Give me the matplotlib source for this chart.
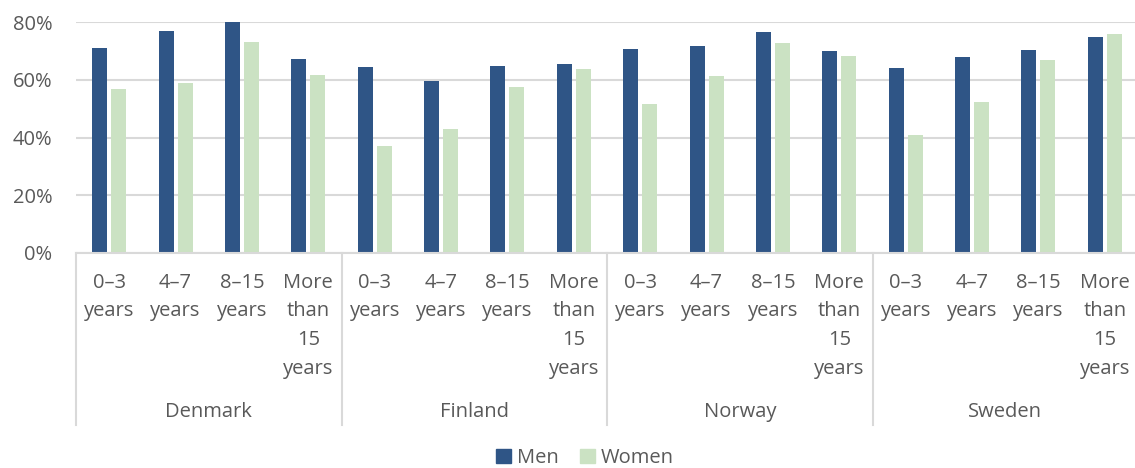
import matplotlib
matplotlib.use("Agg")
import matplotlib.pyplot as plt
import matplotlib.transforms as mtransforms
import numpy as np
from matplotlib.patches import Patch

COUNTRIES = ["Denmark", "Finland", "Norway", "Sweden"]
DURATIONS = ["0–3\nyears", "4–7\nyears", "8–15\nyears", "More\nthan\n15\nyears"]

# share in employment (%), by country then duration of residence
MEN = [71.0, 77.0, 80.1, 67.1,
       64.5, 59.6, 64.7, 65.5,
       70.5, 71.8, 76.5, 69.9,
       64.2, 67.8, 70.3, 74.9]
WOMEN = [56.9, 59.0, 73.1, 61.8,
         37.2, 43.0, 57.4, 63.8,
         51.6, 61.4, 72.6, 68.1,
         40.9, 52.3, 66.9, 75.7]

C_MEN = "#2F5586"
C_WOMEN = "#CBE2C3"
C_TEXT = "#595959"
C_GRID = "#D9D9D9"
FS = 14.5

plt.rcParams["font.family"] = ["Open Sans", "DejaVu Sans"]

W, H = 1135, 468
fig = plt.figure(figsize=(W / 100, H / 100), dpi=100)
ax = fig.add_axes([76 / W, 1 - 253 / H, 1062 / W, 231 / H])

n = len(MEN)
x = np.arange(n)
bw = 0.225
off = 0.143
ax.bar(x - off, MEN, width=bw, color=C_MEN, zorder=3, label="Men")
ax.bar(x + off, WOMEN, width=bw, color=C_WOMEN, zorder=3, label="Women")

ax.set_xlim(-0.5, n - 0.5)
ax.set_ylim(0, 80)
ax.set_yticks([0, 20, 40, 60, 80])
ax.set_yticklabels([f"{v}%" for v in [0, 20, 40, 60, 80]])
ax.tick_params(axis="y", length=0, pad=17, labelsize=FS, labelcolor=C_TEXT)
ax.set_xticks([])
ax.grid(axis="y", color=C_GRID, lw=1.5, zorder=0)
for s in ["top", "right", "left"]:
    ax.spines[s].set_visible(False)
ax.spines["bottom"].set_color(C_GRID)
ax.spines["bottom"].set_linewidth(1.5)
ax.spines["bottom"].set_zorder(4)

trans = mtransforms.blended_transform_factory(ax.transData, ax.transAxes)

# category labels under each pair of bars
for i in range(n):
    ax.text(i, -0.085, DURATIONS[i % 4], transform=trans, ha="center", va="top",
            fontsize=FS, color=C_TEXT, linespacing=1.58)

# country labels and group separators
for g, name in enumerate(COUNTRIES):
    ax.text(g * 4 + 1.5, -0.688, name, transform=trans, ha="center",
            va="center", fontsize=FS, color=C_TEXT)
for b in np.arange(-0.5, n, 4):
    ax.plot([b, b], [0, -0.745], transform=trans, color=C_GRID, lw=1.5,
            clip_on=False)
ax.plot([n - 0.5, n - 0.5], [0, -0.745], transform=trans, color=C_GRID,
        lw=1.5, clip_on=False)

handles = [Patch(color=C_MEN, label="Men"), Patch(color=C_WOMEN, label="Women")]
fig.legend(handles=handles, loc="center", bbox_to_anchor=(585 / W, 1 - 458 / H),
           ncol=2, frameon=False, fontsize=FS, handlelength=0.7,
           handleheight=0.7, handletextpad=0.3, columnspacing=1.1,
           labelcolor=C_TEXT)

fig.savefig("out.png", dpi=100)
